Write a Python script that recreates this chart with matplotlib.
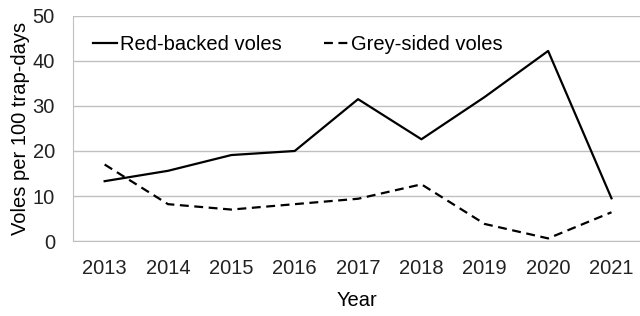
import matplotlib.pyplot as plt

years = ["2013", "2014", "2015", "2016", "2017", "2018", "2019", "2020", "2021"]
red_backed = [13.3, 15.6, 19.1, 20.0, 31.5, 22.6, 32.0, 42.2, 9.5]
grey_sided = [17.0, 8.2, 7.0, 8.2, 9.4, 12.6, 3.8, 0.6, 6.4]

plt.rcParams["font.family"] = ["Liberation Sans", "DejaVu Sans"]

fig = plt.figure(figsize=(6.4, 3.16), dpi=100)
ax = fig.add_axes([0.114, 0.237, 0.886, 0.713])

x = range(len(years))
ax.plot(x, red_backed, color="black", linewidth=1.6, label="Red-backed voles")
ax.plot(x, grey_sided, color="black", linewidth=1.6, linestyle=(0, (4, 2.5)),
        label="Grey-sided voles")

ax.set_xlim(-0.5, 8.45)
ax.set_ylim(0, 50)
ax.set_yticks([0, 10, 20, 30, 40, 50])
ax.set_xticks(list(x))
ax.set_xticklabels(years)
ax.grid(axis="y", color="#c0c0c0", linewidth=1)
ax.set_axisbelow(True)

for s in ["top", "right"]:
    ax.spines[s].set_visible(False)
ax.spines["left"].set_color("#c0c0c0")
ax.spines["bottom"].set_color("#c0c0c0")
ax.tick_params(axis="both", length=0, labelsize=14.5, colors="#222222")
ax.tick_params(axis="y", pad=13)
ax.tick_params(axis="x", pad=13)

ax.set_xlabel("Year", fontsize=14.5, labelpad=9)
ax.set_ylabel("Voles per 100 trap-days", fontsize=14.5, labelpad=2)

ax.legend(loc="upper left", bbox_to_anchor=(0.035, 0.915), ncol=2, frameon=False,
          fontsize=14.5, handlelength=1.2, handletextpad=0.15, columnspacing=2.1,
          borderaxespad=0, borderpad=0)

fig.savefig("out.png", dpi=100)
